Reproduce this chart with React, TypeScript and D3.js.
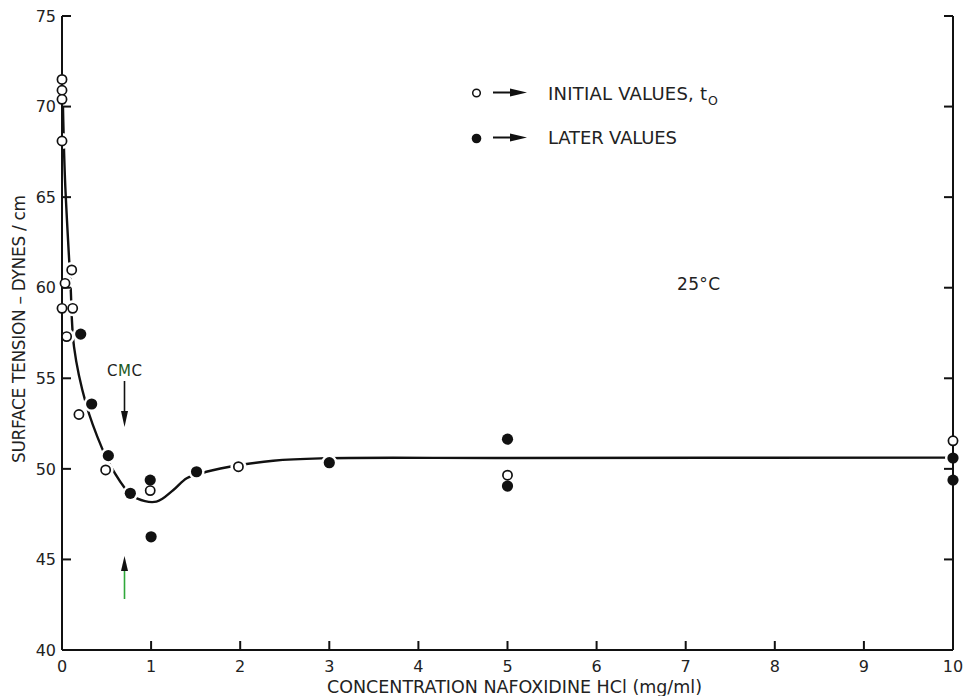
import React from "react";
import * as d3 from "d3";

const X_TICKS = [0, 1, 2, 3, 4, 5, 6, 7, 8, 9, 10];
const Y_TICKS = [40, 45, 50, 55, 60, 65, 70, 75];

// Initial values (open circles)
const initialX = [0, 0, 0, 0, 0.109, 0.034, 0, 0.12, 0.052, 0.19, 0.49, 0.99, 1.98, 5, 10];
const initialY = [71.5, 70.9, 70.4, 68.1, 60.98, 60.24, 58.86, 58.86, 57.3, 53.0, 49.94, 48.8, 50.12, 49.65, 51.55];

// Later values (filled circles)
const laterX = [0.21, 0.333, 0.52, 0.767, 0.99, 1.0, 1.51, 3.0, 5, 5, 10, 10];
const laterY = [57.44, 53.58, 50.73, 48.65, 49.38, 46.25, 49.84, 50.34, 51.64, 49.05, 50.6, 49.38];

// Hand-drawn smooth curve through the data
const curveX = [0.011, 0.034, 0.095, 0.135, 0.27, 0.45, 0.54, 0.74, 0.84, 1.06, 1.25, 1.4, 1.62, 2.0, 2.37, 2.9, 5.0, 10];
const curveY = [69.98, 65.95, 60.24, 56.73, 53.58, 51.13, 50.21, 48.74, 48.37, 48.19, 48.83, 49.48, 49.84, 50.21, 50.45, 50.58, 50.6, 50.62];

const FONT = "'DejaVu Sans', 'Liberation Sans', Arial, sans-serif";

export default function App() {
  const W = 965, H = 696;
  const x = d3.scaleLinear().domain([0, 10]).range([62, 953]);
  const y = d3.scaleLinear().domain([40, 75]).range([650, 16]);

  const curvePts: [number, number][] = curveX.map((v, i) => [x(v), y(curveY[i])]);
  const line = d3.line().curve(d3.curveCatmullRom.alpha(0.5))(curvePts) || "";

  const initial = initialX.map((v, i) => ({ cx: x(v), cy: y(initialY[i]) }));
  const later = laterX.map((v, i) => ({ cx: x(v), cy: y(laterY[i]) }));

  const x0 = x(0), x1 = x(10), y0 = y(40), y1 = y(75);
  const tickLen = 9;

  return (
    <svg width={W} height={H} style={{ position: "absolute", left: 0, top: 0, background: "#fff" }}
      fontFamily={FONT}>
      <rect x={0} y={0} width={W} height={H} fill="#fff" />

      {/* curve */}
      <path d={line} fill="none" stroke="#111" strokeWidth={2.4} />

      {/* halos creating gaps in the curve around markers */}
      {initial.concat(later).map((p, i) => (
        <circle key={"h" + i} cx={p.cx} cy={p.cy} r={8} fill="#fff" />
      ))}

      {/* axes */}
      <g stroke="#111" strokeWidth={2} fill="none">
        <line x1={x0} y1={y1} x2={x0} y2={y0} />
        <line x1={x0} y1={y0} x2={x1} y2={y0} />
        <line x1={x1} y1={y1} x2={x1} y2={y0} />
        {Y_TICKS.filter((t) => t > 40).map((t) => (
          <g key={"yt" + t}>
            <line x1={x0} y1={y(t)} x2={x0 + tickLen} y2={y(t)} />
            <line x1={x1} y1={y(t)} x2={x1 - tickLen} y2={y(t)} />
          </g>
        ))}
        {X_TICKS.filter((t) => t > 0 && t < 10).map((t) => (
          <line key={"xt" + t} x1={x(t)} y1={y0} x2={x(t)} y2={y0 - tickLen} />
        ))}
      </g>

      {/* tick labels */}
      <g fontSize={16} fill="#222">
        {Y_TICKS.map((t) => (
          <text key={"yl" + t} x={56} y={y(t)} dy="0.36em" textAnchor="end">{t}</text>
        ))}
        {X_TICKS.map((t) => (
          <text key={"xl" + t} x={x(t)} y={672} textAnchor="middle">{t}</text>
        ))}
      </g>

      {/* markers */}
      {initial.map((p, i) => (
        <circle key={"o" + i} cx={p.cx} cy={p.cy} r={4.6} fill="#fff" stroke="#111" strokeWidth={1.7} />
      ))}
      {later.map((p, i) => (
        <circle key={"f" + i} cx={p.cx} cy={p.cy} r={5.6} fill="#111" />
      ))}

      {/* axis titles */}
      <text x={514.5} y={693} textAnchor="middle" fontSize={17.5} fill="#222"
        textLength={375} lengthAdjust="spacing">CONCENTRATION NAFOXIDINE HCl (mg/ml)</text>
      <text transform="translate(24.5,329) rotate(-90)" textAnchor="middle" fontSize={17} fill="#222"
        textLength={268} lengthAdjust="spacing">SURFACE TENSION – DYNES / cm</text>

      {/* legend */}
      <circle cx={476.5} cy={93} r={3.8} fill="#fff" stroke="#111" strokeWidth={1.5} />
      <line x1={493} y1={92.5} x2={512} y2={92.5} stroke="#111" strokeWidth={2} />
      <path d="M510,88.5 L527,92.5 L510,96.5 Z" fill="#111" />
      <text x={548} y={99.5} fontSize={18} fill="#222" textLength={159} lengthAdjust="spacing">INITIAL VALUES, t</text>
      <text x={708} y={105} fontSize={12.5} fill="#222">O</text>
      <circle cx={476.5} cy={138.5} r={4.8} fill="#111" />
      <line x1={493} y1={137.5} x2={512} y2={137.5} stroke="#111" strokeWidth={2} />
      <path d="M510,133.5 L527,137.5 L510,141.5 Z" fill="#111" />
      <text x={548} y={144} fontSize={18} fill="#222" textLength={129} lengthAdjust="spacing">LATER VALUES</text>

      {/* temperature */}
      <text x={677} y={290} fontSize={17} fill="#222" textLength={43} lengthAdjust="spacing">25°C</text>

      {/* CMC arrows */}
      <text x={124.5} y={376} textAnchor="middle" fontSize={15} fill="#222" textLength={35} lengthAdjust="spacing">
        C<tspan fill="#1d5a22">M</tspan>C
      </text>
      <line x1={124.5} y1={381} x2={124.5} y2={414} stroke="#111" strokeWidth={1.6} />
      <path d="M121,411 L124.5,427 L128,411 Z" fill="#111" />
      <line x1={124.5} y1={599} x2={124.5} y2={569} stroke="#2fa83a" strokeWidth={1.6} />
      <path d="M121,571 L124.5,556 L128,571 Z" fill="#111" />
    </svg>
  );
}
